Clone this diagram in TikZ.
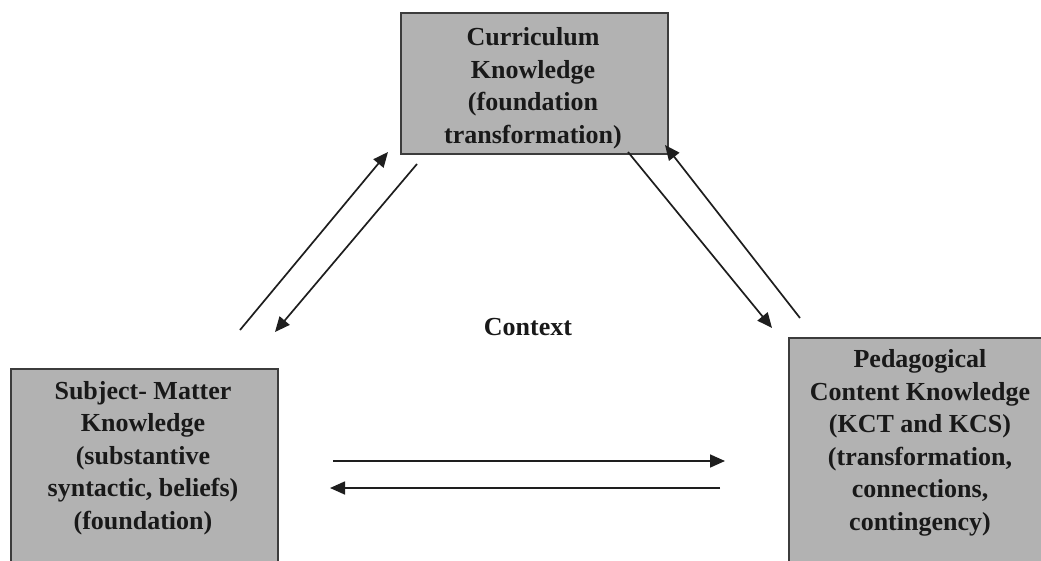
\documentclass[tikz,border=0pt]{standalone}
\usepackage{fontspec}
\setmainfont{Liberation Serif}
\usetikzlibrary{arrows.meta}
\definecolor{boxfill}{RGB}{178,178,178}
\definecolor{boxline}{RGB}{60,60,60}
\definecolor{arrowcol}{RGB}{30,30,30}
\tikzset{
  box/.style={draw=boxline, line width=1.8pt, fill=boxfill, rectangle, inner sep=0pt},
  lbl/.style={align=center, font=\fontsize{26}{32.5}\selectfont\bfseries, text=black!90, inner sep=0pt},
  conn/.style={draw=arrowcol, line width=1.7pt, -{Triangle[length=15pt,width=13pt]}}
}
\begin{document}
\begin{tikzpicture}[x=1pt,y=-1pt]
\useasboundingbox (0,0) rectangle (1041,560);
% boxes
\node[box, anchor=north west, minimum width=267pt, minimum height=141pt] (ck) at (400,12) {};
\node[box, anchor=north west, minimum width=267pt, minimum height=222pt] (smk) at (10,368) {};
\node[box, anchor=north west, minimum width=264pt, minimum height=253pt] (pck) at (788,337) {};
% labels
\node[lbl] (ckt) at (533,88) {Curriculum\\Knowledge\\(foundation\\transformation)};
\node[lbl] (smkt) at (143,458) {Subject- Matter\\Knowledge\\(substantive\\syntactic, beliefs)\\(foundation)};
\node[lbl] (pckt) at (920,443) {Pedagogical\\Content Knowledge\\(KCT and KCS)\\(transformation,\\connections,\\contingency)};
\node[lbl] (ctx) at (528,327) {Context};
% arrow end points
\coordinate (a1s) at (240,330); \coordinate (a1e) at (388,152);
\coordinate (a2s) at (417,164); \coordinate (a2e) at (275,332);
\coordinate (a3s) at (628,152); \coordinate (a3e) at (772,328);
\coordinate (a4s) at (800,318); \coordinate (a4e) at (665,145);
\coordinate (a5s) at (333,461); \coordinate (a5e) at (725,461);
\coordinate (a6s) at (720,488); \coordinate (a6e) at (330,488);
\draw[conn] (a1s) -- (a1e);
\draw[conn] (a2s) -- (a2e);
\draw[conn] (a3s) -- (a3e);
\draw[conn] (a4s) -- (a4e);
\draw[conn] (a5s) -- (a5e);
\draw[conn] (a6s) -- (a6e);
\end{tikzpicture}
\end{document}
